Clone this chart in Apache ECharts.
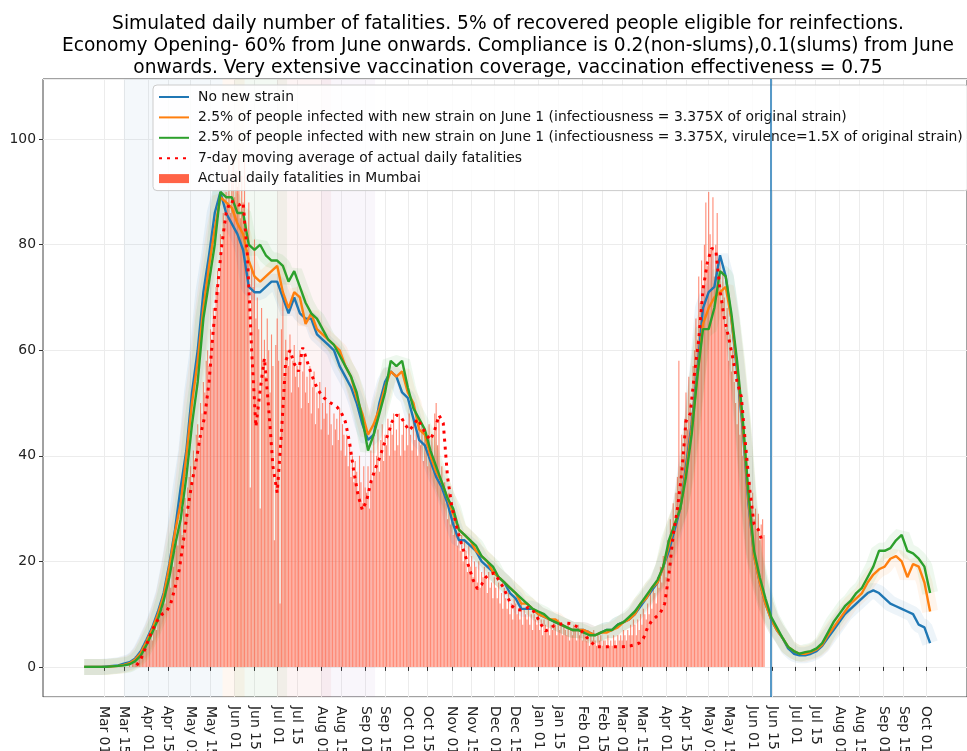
<!DOCTYPE html>
<html>
<head>
<meta charset="utf-8">
<title>Simulated daily fatalities - Mumbai</title>
<script src="https://cdn.jsdelivr.net/npm/echarts@6/dist/echarts.min.js"></script>
<style>
  html, body { margin: 0; padding: 0; background: #fff; }
  #myChart { width: 967px; height: 751px; }
</style>
</head>
<body>
<div id="myChart"></div>
<script>
// x axis is one category per day, labels only on the 1st and 15th
var axisStart = '2020-01-18'
var axisEnd = '2021-10-30'
var firstLabel = '2020-03-01'
var lastLabel = '2021-10-01'

// simulated curves, one value every 4 days starting Feb 16 2020
var modelStart = '2020-02-16'
var modelStep = 4
var noNewStrain = [
  0, 0, 0, 0, 0.1, 0.2, 0.3, 0.6, 0.9, 1.6,
  3, 5.2, 7.5, 10.5, 14, 19.5, 26, 34, 41, 52,
  60, 71, 78, 86, 90, 86, 84, 82, 79, 72,
  71, 71, 72, 73, 73, 70, 67, 70, 67, 66,
  66, 63, 62, 61, 60, 57, 55, 53, 50, 46,
  43, 44, 50, 54, 56, 55, 52, 51, 47, 43,
  42, 39, 36, 34, 31, 27, 24, 24, 23, 22,
  20, 19, 18, 17, 16, 14, 13, 11, 11, 11,
  10, 9.5, 9, 8.5, 8, 7.5, 7, 7, 7, 6.5,
  6, 6.5, 7, 7, 8, 8.5, 9, 10, 11.5, 13,
  14.5, 16, 19, 22, 26, 30, 38, 46, 56, 68,
  71, 72, 78, 74, 66, 56, 45, 31, 21, 16,
  12, 9, 7, 5.5, 3.5, 2.5, 2.2, 2.2, 2.5, 3,
  4, 5.5, 7, 8.5, 10, 11, 12, 13, 14, 14.5,
  14, 13, 12, 11.5, 11, 10.5, 10, 8, 7.5, 4.5
]
var newStrain = [
  0, 0, 0, 0, 0, 0.1, 0.2, 0.4, 0.7, 1.4,
  2.7, 4.8, 7.2, 10, 13.5, 19, 25.5, 31, 40, 50,
  58, 68, 76, 83, 89, 88, 87, 84, 82, 77,
  74, 73, 74, 75, 76, 71, 68, 71, 70, 65,
  67, 64, 63, 62, 61, 60, 57, 55, 51, 48,
  44, 46, 49, 53, 56, 55, 56, 52, 50, 45,
  44, 40, 37, 35, 32, 29, 26, 25, 24, 22,
  21, 20, 18, 17, 16, 15, 14, 12, 12, 11,
  10, 9.5, 9, 9, 8, 7.5, 7, 7, 7, 6.5,
  6, 6.5, 6.5, 7, 7.5, 8.5, 9, 10, 12, 13,
  15, 16, 19, 23, 27, 30, 37, 45, 55, 65,
  68, 70, 71, 72, 66, 57, 46, 32, 21, 16,
  12, 9, 7, 5.5, 3.8, 3, 2.5, 2.5, 2.8, 3.3,
  4.2, 6, 7.5, 9, 10.5, 12, 13, 14, 16, 17.5,
  18.5, 19, 20.5, 21, 20, 17, 19.5, 19, 16, 10.5
]
var newStrainVirulent = [
  0, 0, 0, 0, 0, 0.1, 0.2, 0.3, 0.5, 1.1,
  2.2, 4.2, 6.5, 9, 12.5, 17, 23, 28, 36, 46,
  54, 66, 73, 80, 90, 89, 89, 86, 86, 80,
  79, 80, 78, 77, 77, 76, 73, 75, 72, 69,
  67, 66, 64, 62, 61, 59, 57, 55, 52, 47,
  41, 44, 48, 52, 58, 57, 58, 53, 49, 47,
  45, 41, 38, 35, 32, 30, 26, 25, 24, 23,
  21, 20, 19, 17, 16, 15, 14, 13, 12, 11,
  10.5, 10, 9, 8.5, 8, 7.5, 7, 7, 6.5, 6,
  6, 6.5, 7, 7, 8, 8.5, 9.5, 10.5, 12, 13.5,
  15, 16.5, 19, 24, 27, 30, 36, 44, 55, 64,
  64, 68, 75, 74, 67, 58, 47, 33, 22, 17,
  13, 9.5, 7.5, 5.5, 3.8, 3, 2.5, 2.8, 3, 3.5,
  4.5, 6.5, 8.5, 10, 11.5, 12.5, 14, 15, 17, 19,
  22, 22, 22.5, 24, 25, 22, 21.5, 20.5, 19, 14
]

// 7-day moving average of actual deaths, one value every 3 days from Mar 24 2020
var avgStart = '2020-03-24'
var avgStep = 3
var movingAvg = [
  0.3, 1.5, 3.5, 5.7, 7.5, 9, 10, 10.5, 12, 15,
  18.4, 24, 30, 35, 39.2, 44, 47.5, 54, 64, 72,
  80, 86, 88.3, 88, 87.5, 88, 78, 60, 45.5, 52.5,
  58.5, 49, 38, 33, 44.3, 58, 60, 57.5, 56, 60.5,
  58, 55.5, 53.5, 52, 51, 50.3, 49.8, 49.3, 48.3, 46.5,
  42.5, 37, 32.5, 29.7, 31.5, 35, 37.5, 39.5, 42, 44,
  46.5, 47.7, 47.5, 46, 44.8, 45.8, 47, 45.5, 44, 43,
  44.9, 47.7, 46.2, 36, 30.5, 27, 24, 21.5, 19, 16.5,
  14.8, 15.6, 17, 17.6, 17.8, 16.5, 15.2, 13.5, 11.6, 11,
  10.8, 10.9, 11.3, 10.8, 9.5, 8, 6.8, 7.2, 7.8, 8,
  8.2, 8.3, 8.2, 7.8, 7.3, 6.3, 5.3, 4.5, 3.8, 3.8,
  3.8, 3.8, 3.8, 3.8, 3.8, 3.9, 4, 4.2, 4.5, 5.4,
  7.5, 8.8, 9.5, 10.3, 12, 17.5, 25, 30, 36.7, 46.5,
  48, 55.6, 62, 71.5, 76.5, 79.3, 79, 71.4, 66, 62.5,
  58.5, 54, 51.2, 42, 33.5, 27, 26, 23.5
]

// actual daily fatalities in Mumbai, one value per day from Mar 18 2020
var actualStart = '2020-03-18'
var actualDaily = [
  0, 1, 0, 1, 1, 2, 1,   2, 3, 2, 4, 3, 5, 4,   5, 6, 7, 5, 8, 9, 7,
  10, 9, 12, 11, 14, 12, 15,   16, 18, 15, 20, 19, 22, 24,   23, 26, 28, 25, 30, 32, 29,
  34, 36, 38, 35, 41, 39, 44,   46, 43, 50, 48, 54, 52, 58,   60, 57, 64, 62, 68, 66, 72,
  75, 71, 82, 78, 86, 84, 90,   88, 95, 86, 92, 97, 89, 94,   91, 98, 85, 93, 88, 96, 84,
  79, 88, 34, 76, 72, 81, 66,   70, 64, 30, 68, 58, 62, 55,   66, 60, 52, 63, 57, 24, 61,
  66, 58, 12, 64, 70, 55, 62,   60, 57, 63, 52, 58, 61, 55,   57, 53, 60, 49, 56, 59, 52,
  55, 50, 57, 48, 53, 56, 46,   52, 49, 54, 45, 50, 47, 53,   48, 44, 50, 46, 42, 48, 45,
  47, 43, 49, 41, 46, 44, 40,   44, 38, 42, 36, 40, 35, 39,   37, 33, 40, 35, 31, 38, 34,
  33, 38, 30, 41, 35, 44, 37,   40, 45, 37, 43, 46, 39, 44,   42, 47, 40, 46, 44, 48, 41,
  45, 42, 48, 40, 44, 47, 41,   46, 42, 48, 44, 41, 47, 43,   45, 40, 47, 42, 46, 39, 44,
  43, 38, 46, 40, 44, 37, 48,   50, 42, 47, 36, 38, 33, 35,   31, 28, 33, 27, 30, 25, 28,
  26, 23, 27, 22, 25, 20, 24,   22, 18, 23, 19, 21, 17, 20,   19, 16, 20, 15, 18, 17, 19,
  17, 14, 18, 15, 16, 13, 17,   15, 13, 16, 12, 14, 11, 15,   13, 11, 14, 10, 12, 9, 13,
  12, 10, 11, 9, 12, 8, 11,   10, 9, 11, 8, 10, 7, 10,   9, 8, 10, 7, 9, 6, 9,
  8, 7, 9, 6, 8, 7, 9,   8, 6, 9, 7, 8, 6, 8,   7, 6, 8, 5, 7, 6, 8,
  7, 5, 8, 6, 7, 5, 7,   6, 5, 7, 4, 6, 5, 7,   5, 4, 6, 5, 6, 4, 5,
  5, 4, 6, 4, 5, 4, 6,   5, 4, 6, 5, 6, 5, 7,   6, 5, 7, 6, 8, 6, 9,
  8, 6, 9, 7, 10, 8, 11,   10, 9, 12, 10, 14, 11, 15,   14, 12, 17, 15, 19, 16, 21,
  20, 17, 24, 22, 28, 25, 31,   27, 33, 36, 58, 38, 44, 40,   47, 52, 45, 55, 50, 48, 57,
  60, 66, 62, 74, 69, 77, 72,   80, 88, 76, 90, 82, 79, 89,   74, 80, 86, 72, 78, 69, 75,
  70, 64, 68, 58, 63, 56, 60,   54, 50, 46, 52, 44, 47, 40,   42, 36, 39, 32, 35, 30, 33,
  28, 30, 26, 29, 24, 27, 28,   25
]

var markerDate = '2021-06-14'
var phaseRanges = [
  ['2020-03-15', '2020-05-18'],
  ['2020-05-18', '2020-06-01'],
  ['2020-06-01', '2020-07-01'],
  ['2020-07-01', '2020-08-01'],
  ['2020-08-01', '2020-09-01']
]
var phaseColors = ['rgba(31,119,180,0.05)', 'rgba(255,127,14,0.06)', 'rgba(44,160,44,0.06)', 'rgba(214,39,40,0.05)', 'rgba(148,103,189,0.06)']

var nameBlue = 'No new strain'
var nameOrange = '2.5% of people infected with new strain on June 1 (infectiousness = 3.375X of original strain)'
var nameGreen = '2.5% of people infected with new strain on June 1 (infectiousness = 3.375X, virulence=1.5X of original strain)'
var nameAvg = '7-day moving average of actual daily fatalities'
var nameBars = 'Actual daily fatalities in Mumbai'

var MONTHS = ['Jan', 'Feb', 'Mar', 'Apr', 'May', 'Jun', 'Jul', 'Aug', 'Sep', 'Oct', 'Nov', 'Dec']
var FONT = 'DejaVu Sans'

function addDays(s, n) {
  var d = new Date(s + 'T00:00:00Z')
  d.setUTCDate(d.getUTCDate() + n)
  return d.toISOString().slice(0, 10)
}
function dayRange(a, b) {
  var out = []
  var s = a
  while (s <= b) {
    out.push(s)
    s = addDays(s, 1)
  }
  return out
}
function toPairs(start, step, values) {
  return values.map(function (v, i) { return [addDays(start, i * step), v] })
}
// ticks only on the 1st and 15th, and only inside the data range
function isLabelDay(idx, value) {
  if (value < firstLabel || value > lastLabel) return false
  var dd = value.slice(8)
  return dd === '01' || dd === '15'
}

var days = dayRange(axisStart, axisEnd)
var bluePairs = toPairs(modelStart, modelStep, noNewStrain)
var orangePairs = toPairs(modelStart, modelStep, newStrain)
var greenPairs = toPairs(modelStart, modelStep, newStrainVirulent)

// soft band drawn under each simulated curve
function halo(name, color, pairs) {
  return {
    name: name, type: 'line', data: pairs, symbol: 'none', silent: true, z: 2,
    lineStyle: { color: color, width: 16, opacity: 0.08 }
  }
}
function modelLine(name, color, pairs, z) {
  return {
    name: name, type: 'line', data: pairs, symbol: 'none', z: z,
    lineStyle: { color: color, width: 2.4 }, itemStyle: { color: color }
  }
}

var myChart = echarts.init(document.getElementById('myChart'))
myChart.setOption({
  animation: false,
  backgroundColor: '#ffffff',
  title: {
    text: 'Simulated daily number of fatalities. 5% of recovered people eligible for reinfections.\nEconomy Opening- 60% from June onwards. Compliance is 0.2(non-slums),0.1(slums) from June\nonwards. Very extensive vaccination coverage, vaccination effectiveness = 0.75',
    left: 508,
    top: 13,
    padding: 0,
    textAlign: 'center',
    textStyle: { fontFamily: FONT, fontSize: 18.6, fontWeight: 'normal', color: '#000', lineHeight: 22 }
  },
  legend: {
    orient: 'vertical',
    left: 153,
    top: 85,
    padding: [5, 6, 5, 5],
    itemWidth: 30,
    itemHeight: 9,
    itemGap: 6.4,
    backgroundColor: 'rgba(255,255,255,0.85)',
    borderColor: '#cccccc',
    borderWidth: 1,
    borderRadius: 4,
    textStyle: { fontFamily: FONT, fontSize: 13.9, color: '#111', padding: [0, 0, 0, 4] },
    data: [
      { name: nameBlue, itemStyle: { opacity: 0 } },
      { name: nameOrange, itemStyle: { opacity: 0 } },
      { name: nameGreen, itemStyle: { opacity: 0 } },
      { name: nameAvg, itemStyle: { opacity: 0 } },
      { name: nameBars, icon: 'rect', itemStyle: { opacity: 1 } }
    ]
  },
  grid: {
    left: 43, right: 0, top: 79, bottom: 54,
    outerBoundsMode: 'none',
    containLabel: false,
    show: true, borderColor: '#444', borderWidth: 1, backgroundColor: 'transparent'
  },
  xAxis: {
    type: 'category',
    data: days,
    boundaryGap: false,
    axisLine: { show: false },
    axisTick: { show: true, interval: isLabelDay, length: 4, lineStyle: { color: '#333' } },
    axisLabel: {
      interval: isLabelDay,
      rotate: -90,
      margin: 9,
      fontFamily: FONT, fontSize: 13.9, color: '#222',
      formatter: function (v) { return MONTHS[+v.slice(5, 7) - 1] + ' ' + v.slice(8) }
    },
    splitLine: { show: true, interval: isLabelDay, lineStyle: { color: '#ececec', width: 1 } }
  },
  yAxis: {
    type: 'value',
    min: -5.7,
    max: 111.4,
    splitNumber: 5,
    axisLine: { show: false },
    axisTick: { show: true, length: 4, lineStyle: { color: '#333' } },
    axisLabel: {
      margin: 7, fontFamily: FONT, fontSize: 13.9, color: '#222',
      showMinLabel: false, showMaxLabel: false
    },
    splitLine: { lineStyle: { color: '#ececec', width: 1 } }
  },
  series: [
    {
      name: nameBars,
      type: 'bar',
      data: toPairs(actualStart, 1, actualDaily),
      barWidth: 1.1,
      z: 1,
      itemStyle: { color: '#ff6347', opacity: 0.75 },
      markArea: {
        silent: true,
        data: phaseRanges.map(function (r, i) {
          return [{ xAxis: r[0], itemStyle: { color: phaseColors[i] } }, { xAxis: r[1] }]
        })
      },
      markLine: {
        silent: true,
        symbol: 'none',
        label: { show: false },
        lineStyle: { color: '#1f77b4', width: 1.5, type: 'solid' },
        data: [{ xAxis: markerDate }]
      }
    },
    halo('band-blue', '#1f77b4', bluePairs),
    halo('band-orange', '#ff7f0e', orangePairs),
    halo('band-green', '#2ca02c', greenPairs),
    modelLine(nameBlue, '#1f77b4', bluePairs, 3),
    modelLine(nameOrange, '#ff7f0e', orangePairs, 4),
    modelLine(nameGreen, '#2ca02c', greenPairs, 5),
    {
      name: nameAvg,
      type: 'line',
      data: toPairs(avgStart, avgStep, movingAvg),
      symbol: 'none',
      z: 6,
      lineStyle: { color: '#ff0000', width: 3, type: [3, 5] },
      itemStyle: { color: '#ff0000' }
    }
  ]
})
</script>
</body>
</html>
